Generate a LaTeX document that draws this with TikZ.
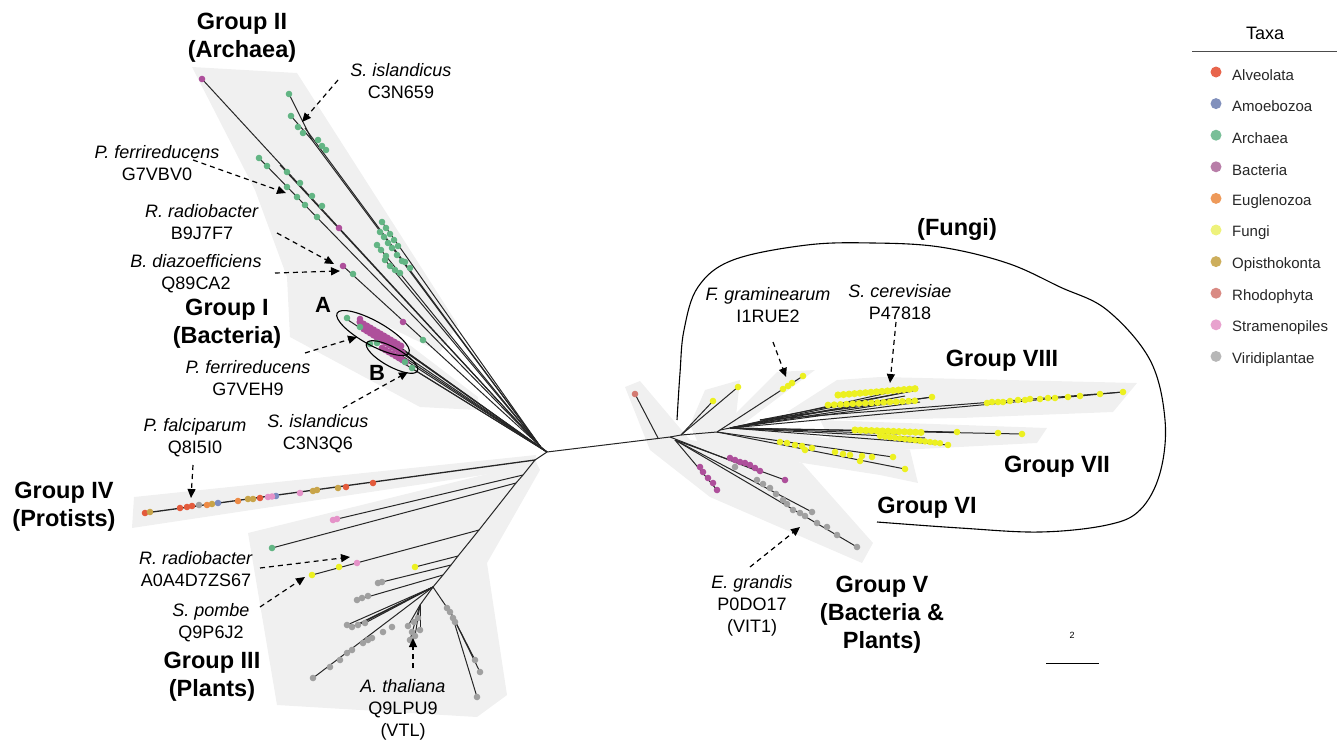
\documentclass[tikz,border=0pt]{standalone}
\usepackage{fontspec}
\setmainfont{Liberation Sans}
\usetikzlibrary{arrows.meta,shapes.geometric}
\definecolor{lAlv}{HTML}{E8654C}
\definecolor{lAmo}{HTML}{8190BC}
\definecolor{lArc}{HTML}{79BF98}
\definecolor{lBac}{HTML}{B87EA8}
\definecolor{lEug}{HTML}{EE9A5A}
\definecolor{lFun}{HTML}{EEF27B}
\definecolor{lOpi}{HTML}{CDAE5C}
\definecolor{lRho}{HTML}{D98A83}
\definecolor{lStr}{HTML}{E8A2CE}
\definecolor{lVir}{HTML}{B7B7B7}
\definecolor{tAlv}{HTML}{E35B3C}
\definecolor{tAmo}{HTML}{7C8CC0}
\definecolor{tArc}{HTML}{62B584}
\definecolor{tBac}{HTML}{AE4F9B}
\definecolor{tEug}{HTML}{EE8B46}
\definecolor{tFun}{HTML}{ECF020}
\definecolor{tOpi}{HTML}{C8A449}
\definecolor{tRho}{HTML}{D37A72}
\definecolor{tStr}{HTML}{E592C8}
\definecolor{tVir}{HTML}{A0A0A0}
\definecolor{regc}{HTML}{F0F0F0}
\newcommand\dotsat[2]{\foreach \p in {#2} \fill[#1] \p circle (3.3pt);}
\begin{document}
\begin{tikzpicture}[x=1pt,y=-1pt,
  br/.style={line width=1pt, black!85},
  region/.style={fill=regc, draw=none},
  sp/.style={font=\fontsize{18}{22}\selectfont, align=center, inner sep=0pt},
  grp/.style={font=\bfseries\fontsize{23.5}{28}\selectfont, align=center, inner sep=0pt},
  callout/.style={dash pattern=on 5pt off 4pt, line width=1.2pt, -{Triangle[length=9pt,width=8pt]}},
  ring/.style={draw, ellipse, line width=1.1pt, inner sep=0pt}]
\useasboundingbox (0,0) rectangle (1338,742);

% ---------- shaded regions ----------
\fill[region] (192,67) -- (297,73) -- (458,325) -- (440,352) -- (287,277) -- (255,190) -- cycle;
\fill[region] (287,277) -- (340,292) -- (478,397) -- (478,410) -- (420,407) -- (290,337) -- cycle;
\fill[region] (134,497) -- (536,455) -- (536,467) -- (132,528) -- cycle;
\fill[region] (248,533) -- (536,462) -- (540,470) -- (487,563) -- (507,695) -- (477,717) -- (277,705) -- cycle;
\fill[region] (625,387) -- (640,381) -- (690,440) -- (730,445) -- (802,463) -- (873,543) -- (862,563) -- (710,497) -- (650,450) -- cycle;
\fill[region] (690,425) -- (705,390) -- (740,380) -- (735,425) -- (910,450) -- (918,483) -- (880,475) -- (700,447) -- cycle;
\fill[region] (777,372) -- (815,370) -- (738,428) -- (722,427) -- cycle;
\fill[region] (787,412) -- (837,380) -- (880,377) -- (1137,383) -- (1113,412) -- (960,418) -- (850,420) -- cycle;
\fill[region] (820,420) -- (1047,428) -- (1037,443) -- (900,450) -- (830,440) -- cycle;

% ---------- tree junctions ----------
\coordinate (C) at (547,452);
\coordinate (U) at (540,446);
\coordinate (D) at (535,460);
\coordinate (R) at (670,437);
\coordinate (g1) at (312,140);
\draw[br] (D) -- (C) -- (R);
\draw[br] (U) -- (C);

% ---------- Group II ----------
\foreach \p in {(202,79),(g1),(305,128),(259,158),(280,165),(343,266),(382,222),(377,245),(385,260)} \draw[br] (U) -- \p;
\foreach \p in {(289,94),(291,116)} \draw[br] (g1) -- \p;
\fill[tBac] (202,79) circle (3.3pt);
\dotsat{tArc}{(289,94),(291,116),(298,127),(303,133),(318,140),(322,146),(326,150),(380,232),(384,237),(388,243),(392,248),(397,255),(402,261)}
\dotsat{tArc}{(259,158),(267,166),(287,187),(297,197),(305,205),(317,217),(287,172),(300,183),(312,196),(322,206)}
\dotsat{tBac}{(339,228),(343,266),(403,322)}
\dotsat{tArc}{(353,274),(423,340),(382,222),(386,228),(390,234),(394,240),(398,246),(377,245),(381,250),(386,256),(385,260),(390,266),(395,270),(400,273),(405,262),(410,268)}

% ---------- Group I ----------
\foreach \p in {(345,318),(360,320),(375,330),(390,340),(400,352),(405,360),(413,369),(395,358)} \draw[br] (C) -- \p;
\foreach \i in {0,...,12} {
  \fill[tBac] ({360+\i*3.4},{322+\i*2}) circle (3.6pt);
  \fill[tBac] ({364+\i*3.2},{329+\i*2}) circle (3.6pt);
}
\foreach \i in {0,...,7} \fill[tBac] ({382+\i*3.4},{348+\i*2}) circle (3.4pt);
\dotsat{tArc}{(347,318),(360,327),(377,343),(405,362),(412,368),(370,344)}
\fill[tBac] (360,319) circle (3.3pt);
\node[ring, minimum width=82pt, minimum height=24pt, rotate=-29] (ellA) at (373,333) {};
\node[ring, minimum width=58pt, minimum height=19pt, rotate=-29] (ellB) at (392,357) {};
\node[font=\bfseries\fontsize{22}{22}\selectfont, inner sep=0pt] (labA) at (323,305) {A};
\node[font=\bfseries\fontsize{22}{22}\selectfont, inner sep=0pt] (labB) at (377,373) {B};

% ---------- Group IV ----------
\coordinate (p4) at (145,513);
\draw[br, line width=1.3pt] (D) -- (p4);
\dotsat{tAlv}{(145,513),(180,508),(187,507),(192,506),(260,498),(346,487),(373,483)}
\dotsat{tOpi}{(150,512),(212,504),(248,499),(253,499),(313,491),(317,490),(338,488)}
\dotsat{tAmo}{(218,503),(276,496)}
\dotsat{tVir}{(199,505)}
\dotsat{tEug}{(207,505),(238,501)}
\dotsat{tStr}{(268,497),(272,496.5),(300,493)}

% ---------- Group III ----------
\coordinate (t1) at (523,475);
\coordinate (t2) at (516,483);
\coordinate (t3) at (479,530);
\coordinate (t4) at (458,556);
\coordinate (t5) at (451,565);
\coordinate (t6) at (443,575);
\coordinate (t7) at (433,587);
\coordinate (t8) at (420,605);
\coordinate (t9) at (452,615);
\draw[br] (D) -- (t1) -- (t2) -- (t3) -- (t4) -- (t5) -- (t6) -- (t7) -- (t8);
\draw[br] (t7) -- (t9);
\draw[br] (t1) -- (333,520);
\draw[br] (t2) -- (272,548);
\draw[br] (t3) -- (312,575);
\draw[br] (t4) -- (415,567);
\draw[br] (t5) -- (378,583);
\draw[br] (t6) -- (357,600);
\foreach \p in {(347,625),(352,627),(358,625),(365,623),(313,678)} \draw[br] (t7) -- \p;
\foreach \p in {(410,640),(415,636),(420,630),(408,626)} \draw[br] (t8) -- \p;
\foreach \p in {(475,660),(480,672),(477,697)} \draw[br] (t9) -- \p;
\dotsat{tStr}{(333,520),(337,519),(357,563)}
\dotsat{tArc}{(272,548)}
\dotsat{tFun}{(339,567),(312,575),(415,567)}
\dotsat{tVir}{(378,583),(382,582),(357,600),(362,598),(368,596),(347,625),(352,627),(358,625),(365,623),(313,678),(330,667),(340,660),(347,653),(352,650),(363,643),(368,640),(372,638),(383,632),(392,627),(410,640),(415,636),(420,630),(408,626),(414,622),(418,618),(412,632),(447,608),(450,612),(453,618),(455,622),(475,660),(480,672),(477,697)}

% ---------- right tree ----------
\coordinate (r1) at (658,438);
\coordinate (r2) at (681,435);
\coordinate (r3) at (720,430);
\coordinate (r4) at (730,428);
\coordinate (r5) at (717,432);
\coordinate (r6) at (675,440);
\draw[br] (R) -- (r2) -- (r5) -- (r3) -- (r4);
\draw[br] (r1) -- (635,394);
\fill[tRho] (635,394) circle (3.3pt);
\draw[br] (r2) -- (713,401);
\draw[br] (r2) -- (738,387);
\draw[br] (r3) -- (803,376);
\dotsat{tFun}{(713,401),(738,387),(783,389),(788,386),(792,383),(803,376)}
% Group VIII
\foreach \p in {(917,390),(910,388),(932,397),(920,402),(1123,392),(905,396),(890,400)} \draw[br] (r4) -- \p;
\foreach \p in {(917,390),(932,397),(1123,392)} \draw[br] (760,420) -- \p;
\foreach \i in {0,...,14} {
  \fill[tFun] ({838+\i*5.5},{395-\i*0.45}) circle (3.6pt);
  \fill[tFun] ({828+\i*6.2},{405-\i*0.3}) circle (3.4pt);
}
\dotsat{tFun}{(932,397),(987,403),(992,402),(998,402),(1003,402),(1010,401),(1018,400),(1025,400),(1030,399),(1040,399),(1048,398),(1055,398),(1068,397),(1080,396),(1100,394),(1123,392)}
% Group VII
\foreach \p in {(1022,434),(948,445),(957,432),(925,438),(900,434)} \draw[br] (r4) -- \p;
\foreach \i in {0,...,12} {
  \fill[tFun] ({855+\i*5.5},{430+\i*0.2}) circle (3.6pt);
  \fill[tFun] ({880+\i*5},{436+\i*0.6}) circle (3.2pt);
}
\dotsat{tFun}{(957,432),(998,433),(1022,434),(948,445)}
% Group VI
\draw[br] (r5) -- (893,457);
\draw[br] (r5) -- (905,469);
\dotsat{tFun}{(780,442),(787,443),(795,445),(802,446),(812,448),(835,452),(843,454),(850,455),(862,456),(872,457),(893,457),(805,450),(860,461),(905,469)}
% Group V
\draw[br] (r6) -- (717,490);
\draw[br] (r6) -- (785,480);
\draw[br] (r6) -- (857,547);
\draw[br] (r6) -- (812,512);
\draw[br] (R) -- (760,472);
\dotsat{tBac}{(700,467),(703,472),(708,478),(713,483),(717,490),(730,458),(735,460),(740,462),(745,463),(750,465),(755,468),(760,471),(785,480)}
\dotsat{tVir}{(735,467),(757,480),(763,484),(770,488),(776,494),(783,500),(787,504),(793,510),(800,513),(805,516),(812,512),(817,523),(827,527),(837,535),(857,547)}

% ---------- Fungi loop ----------
\draw[line width=1.1pt] plot[smooth, tension=0.6] coordinates {(677,420) (680,373) (684,330) (698,287) (733,260) (807,245) (873,243) (940,247) (1007,263) (1060,287) (1107,310) (1150,360) (1165,420) (1160,473) (1140,510) (1107,525) (1040,532) (960,528) (877,522)};

% ---------- labels ----------
\node[grp] (lgII) at (242,38) {Group II\\(Archaea)};
\node[sp] (sIsl1) at (401,81) {\textit{S. islandicus}\\C3N659};
\node[sp] (pFer1) at (157,163) {\textit{P. ferrireducens}\\G7VBV0};
\node[sp] (rRad1) at (202,222) {\textit{R. radiobacter}\\B9J7F7};
\node[sp] (bDia) at (196,274) {\textit{B. diazoefficiens}\\Q89CA2};
\node[grp] (lgI) at (227,324) {Group I\\(Bacteria)};
\node[sp] (pFer2) at (248,378) {\textit{P. ferrireducens}\\G7VEH9};
\node[sp] (sIsl2) at (318,434) {\textit{S. islandicus}\\C3N3Q6};
\node[sp] (pFal) at (195,438) {\textit{P. falciparum}\\Q8I5I0};
\node[grp] (lgIV) at (64,507) {Group IV\\(Protists)};
\node[sp] (rRad2) at (196,569) {\textit{R. radiobacter}\\A0A4D7ZS67};
\node[sp] (sPom) at (211,623) {\textit{S. pombe}\\Q9P6J2};
\node[grp] (lgIII) at (212,677) {Group III\\(Plants)};
\node[sp] (aTha) at (403,710) {\textit{A. thaliana}\\Q9LPU9\\(VTL)};
\node[grp] (lgF) at (957,229) {(Fungi)};
\node[sp] (fGra) at (768,305) {\textit{F. graminearum}\\I1RUE2};
\node[sp] (sCer) at (900,302) {\textit{S. cerevisiae}\\P47818};
\node[grp] (lgVIII) at (1002,361) {Group VIII};
\node[grp] (lgVII) at (1057,467) {Group VII};
\node[grp] (lgVI) at (927,508) {Group VI};
\node[sp] (eGra) at (752,606) {\textit{E. grandis}\\P0DO17\\(VIT1)};
\node[grp] (lgV) at (882,615) {Group V\\(Bacteria \&\\Plants)};
\node[font=\fontsize{9}{9}\selectfont, inner sep=0pt] (scaleTxt) at (1072,635) {2};
\coordinate (sb1) at (1046,663);
\coordinate (sb2) at (1099,663);
\draw[line width=0.8pt] (sb1) -- (sb2);

% ---------- callouts ----------
\coordinate (a1s) at (338,80);  \coordinate (a1e) at (302,122);
\coordinate (a2s) at (193,160); \coordinate (a2e) at (286,193);
\coordinate (a3s) at (277,233); \coordinate (a3e) at (334,264);
\coordinate (a4s) at (275,273); \coordinate (a4e) at (340,271);
\coordinate (a5s) at (305,353); \coordinate (a5e) at (357,337);
\coordinate (a6s) at (343,408); \coordinate (a6e) at (408,372);
\coordinate (a7s) at (193,465); \coordinate (a7e) at (191,498);
\coordinate (a8s) at (260,568); \coordinate (a8e) at (350,557);
\coordinate (a9s) at (260,607); \coordinate (a9e) at (305,577);
\coordinate (a10s) at (413,668); \coordinate (a10e) at (413,638);
\coordinate (a11s) at (773,342); \coordinate (a11e) at (786,377);
\coordinate (a12s) at (896,322); \coordinate (a12e) at (890,383);
\coordinate (a13s) at (750,567); \coordinate (a13e) at (800,527);
\foreach \k in {1,...,13} \draw[callout] (a\k s) -- (a\k e);

% ---------- legend ----------
\node[font=\fontsize{18}{18}\selectfont, inner sep=0pt] (taxa) at (1265,33) {Taxa};
\coordinate (lg1) at (1192,51);
\coordinate (lg2) at (1337,51);
\draw[black!70, line width=0.8pt] (lg1) -- (lg2);
\foreach \n/\c [count=\i from 0] in {Alveolata/lAlv,Amoebozoa/lAmo,Archaea/lArc,Bacteria/lBac,Euglenozoa/lEug,Fungi/lFun,Opisthokonta/lOpi,Rhodophyta/lRho,Stramenopiles/lStr,Viridiplantae/lVir} {
  \fill[\c] (1216,{72+31.6*\i}) circle (5.5pt);
  \node[anchor=west, font=\fontsize{15}{15}\selectfont, inner sep=0pt, text=black!85] (leg\i) at (1232,{75+31.6*\i}) {\n};
}
\end{tikzpicture}
\end{document}
